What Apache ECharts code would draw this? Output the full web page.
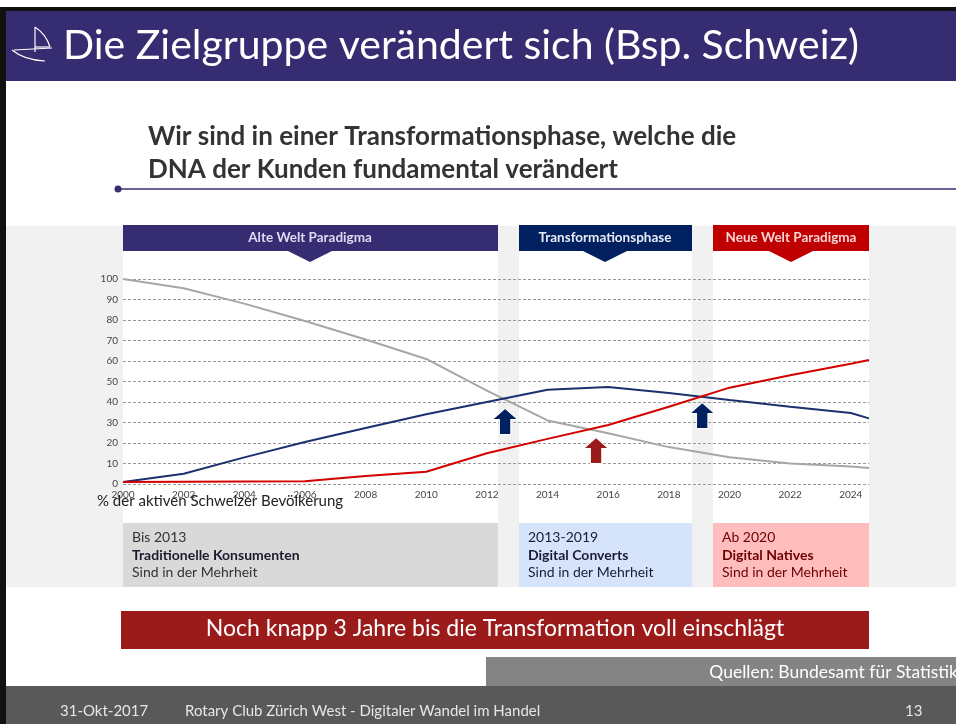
<!DOCTYPE html>
<html>
<head>
<meta charset="utf-8">
<script src="https://cdn.jsdelivr.net/npm/echarts@6/dist/echarts.min.js"></script>
<style>
  html, body { margin: 0; padding: 0; background: #fff; }
  #chart { width: 956px; height: 724px; }
</style>
</head>
<body>
<div id="chart"></div>
<script>
// share of the active Swiss population
const years = [2000, 2002, 2004, 2006, 2008, 2010, 2012, 2014, 2016, 2018, 2020, 2022, 2024, 2024.6];
const traditional = [100, 95.5, 88, 79.5, 70.5, 61, 45.5, 31, 24.8, 18, 13, 10, 8.5, 7.8];
const converts = [1, 5, 13, 20.5, 27.3, 34, 40, 46, 47.3, 44.4, 41, 37.7, 34.6, 32];
const natives = [1, 1.1, 1.2, 1.3, 3.9, 6, 15, 22, 28.8, 37.7, 47, 53, 58.7, 60.5];

// arrows marking the crossover points
const arrowYears = [2012.6, 2015.6, 2019.1];
const arrowValues = [30.5, 16.3, 33.4];

const yTicks = [0, 10, 20, 30, 40, 50, 60, 70, 80, 90, 100];

const FONT = "Lato, 'Open Sans', sans-serif";
const ARROW = "path://M11,0 L22,11 L16,11 L16,26 L6,26 L6,11 L0,11 Z";

const chart = echarts.init(document.getElementById("chart"));

function pairs(vals) {
  return years.map(function (y, i) { return [y, vals[i]]; });
}

function rect(x, y, w, h, fill, z) {
  return { type: "rect", shape: { x: x, y: y, width: w, height: h }, style: { fill: fill }, z: z == null ? -5 : z, silent: true };
}

function label(x, y, text, opts) {
  return {
    type: "text", x: x, y: y, z: opts.z == null ? 5 : opts.z, silent: true,
    style: {
      text: text, fill: opts.color || "#333",
      font: (opts.weight || "normal") + " " + opts.size + "px " + FONT,
      textAlign: opts.align || "left", textVerticalAlign: "middle"
    }
  };
}

function tri(cx, color) {
  return { type: "polygon", shape: { points: [[cx - 22, 251], [cx + 22, 251], [cx, 262]] }, style: { fill: color }, z: -4, silent: true };
}

function stroke(type, shape) {
  return { type: type, shape: shape, style: { stroke: "#fff", lineWidth: 1.2, fill: null }, z: 6, silent: true };
}

const graphics = [
  // slide frame + header
  rect(0, 7, 956, 4, "#111"),
  rect(0, 11, 956, 70, "#352c72"),
  rect(0, 7, 6, 717, "#111", 20),
  label(63, 46, "Die Zielgruppe verändert sich (Bsp. Schweiz)", { size: 41, color: "#fff", z: 6 }),
  // little sailboat logo
  stroke("line", { x1: 35, y1: 27, x2: 35, y2: 52 }),
  stroke("bezierCurve", { x1: 35, y1: 27, x2: 50, y2: 47, cpx1: 46, cpy1: 34 }),
  stroke("line", { x1: 35, y1: 47, x2: 50, y2: 47 }),
  stroke("line", { x1: 14, y1: 50, x2: 52, y2: 48 }),
  stroke("bezierCurve", { x1: 12, y1: 50, x2: 45, y2: 61, cpx1: 24, cpy1: 60 }),

  label(148, 137, "Wir sind in einer Transformationsphase, welche die", { size: 26, weight: "bold", color: "#333" }),
  label(148, 170, "DNA der Kunden fundamental verändert", { size: 26, weight: "bold", color: "#333" }),
  { type: "line", shape: { x1: 118, y1: 189, x2: 956, y2: 189 }, style: { stroke: "#352c72", lineWidth: 1.5 }, z: 1, silent: true },
  { type: "circle", shape: { cx: 118, cy: 189, r: 3.5 }, style: { fill: "#352c72" }, z: 1, silent: true },

  // grey panel and white columns
  rect(6, 226, 950, 361, "#f1f1f1", -10),
  rect(123, 251, 375, 272, "#fff", -9),
  rect(519, 251, 173, 272, "#fff", -9),
  rect(713, 251, 156, 272, "#fff", -9),

  // phase headers
  rect(123, 225, 375, 26, "#352c72", -4),
  rect(519, 225, 173, 26, "#002060", -4),
  rect(713, 225, 156, 26, "#c00000", -4),
  tri(310, "#352c72"), tri(605, "#002060"), tri(791, "#c00000"),
  label(310, 238, "Alte Welt Paradigma", { size: 13.5, weight: "bold", color: "#dedbf2", align: "center" }),
  label(605, 238, "Transformationsphase", { size: 13.5, weight: "bold", color: "#e8ecf6", align: "center" }),
  label(791, 238, "Neue Welt Paradigma", { size: 13.5, weight: "bold", color: "#f8d4d4", align: "center" }),

  // phase boxes
  rect(123, 523, 375, 64, "#d9d9d9", -4),
  rect(519, 523, 173, 64, "#d6e4fb", -4),
  rect(713, 523, 156, 64, "#ffbdbd", -4),
  label(132, 537, "Bis 2013", { size: 14, color: "#333" }),
  label(132, 555, "Traditionelle Konsumenten", { size: 14, weight: "bold", color: "#1a1a2e" }),
  label(132, 572, "Sind in der Mehrheit", { size: 14, color: "#333" }),
  label(528, 537, "2013-2019", { size: 14, color: "#1a1a3a" }),
  label(528, 555, "Digital Converts", { size: 14, weight: "bold", color: "#1a1a3a" }),
  label(528, 572, "Sind in der Mehrheit", { size: 14, color: "#1a1a3a" }),
  label(722, 537, "Ab 2020", { size: 14, color: "#6e0000" }),
  label(722, 555, "Digital Natives", { size: 14, weight: "bold", color: "#6e0000" }),
  label(722, 572, "Sind in der Mehrheit", { size: 14, color: "#6e0000" }),

  // axis caption, overlapping the year labels as on the slide
  label(97, 501, "% der aktiven Schweizer Bevölkerung", { size: 15, color: "#222", z: 10 }),

  // banner, source, footer
  rect(121, 611, 748, 38, "#9b1b1b", 1),
  label(495, 629, "Noch knapp 3 Jahre bis die Transformation voll einschlägt", { size: 23, color: "#fff", align: "center" }),
  rect(486, 657, 470, 29, "#848484", 1),
  label(958, 672, "Quellen: Bundesamt für Statistik", { size: 17.5, color: "#fff", align: "right" }),
  rect(0, 686, 956, 38, "#595959", 1),
  label(60, 711, "31-Okt-2017", { size: 15, color: "#e6e6e6" }),
  label(185, 711, "Rotary Club Zürich West - Digitaler Wandel im Handel", { size: 15, color: "#e6e6e6" }),
  label(905, 711, "13", { size: 15, color: "#e6e6e6" })
];

function lineSeries(name, vals, color) {
  return {
    name: name, type: "line", data: pairs(vals), showSymbol: false, smooth: false,
    lineStyle: { color: color, width: 2 }, itemStyle: { color: color }, z: 3
  };
}

const arrows = lineSeries("Pfeile", [], "#002060");
arrows.data = [];
arrows.markPoint = {
  symbol: ARROW, symbolSize: [25, 26], label: { show: false }, silent: true,
  data: arrowYears.map(function (x, i) {
    return { coord: [x, arrowValues[i]], itemStyle: { color: i === 1 ? "#9b1b1b" : "#002060", borderColor: "#fff", borderWidth: 1 } };
  })
};

chart.setOption({
  backgroundColor: "#fff",
  animation: false,
  textStyle: { fontFamily: FONT },
  grid: { left: 123, right: 87, top: 279, bottom: 240 },
  xAxis: {
    type: "value", min: 2000, max: 2024.6, interval: 2,
    axisLine: { show: false }, axisTick: { show: false }, splitLine: { show: false },
    axisLabel: {
      color: "#444", fontSize: 10, margin: 6,
      formatter: function (v) { return Number.isInteger(v) ? String(v) : ""; }
    }
  },
  yAxis: {
    type: "value", min: yTicks[0], max: yTicks[yTicks.length - 1], interval: 10,
    axisLine: { show: false }, axisTick: { show: false },
    axisLabel: { color: "#444", fontSize: 10, margin: 5 },
    splitLine: { lineStyle: { color: "#999", type: [3, 2], width: 1 } }
  },
  series: [
    lineSeries("Traditionelle Konsumenten", traditional, "#a6a6a6"),
    lineSeries("Digital Converts", converts, "#1c2f6e"),
    lineSeries("Digital Natives", natives, "#d40000"),
    arrows
  ],
  graphic: graphics
});

window.addEventListener("resize", () => chart.resize());
</script>
</body>
</html>
